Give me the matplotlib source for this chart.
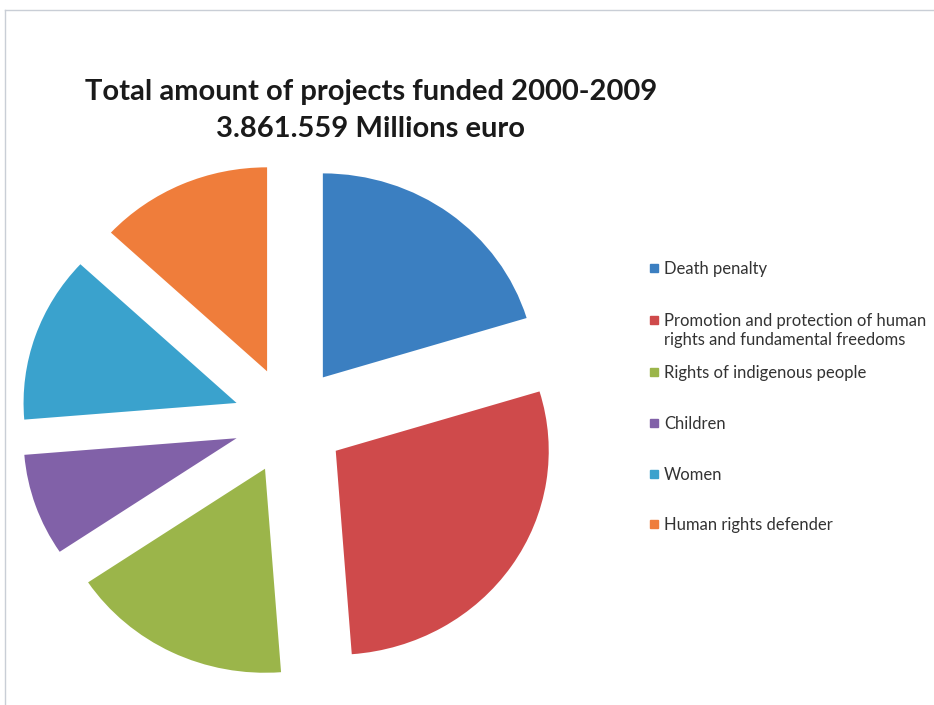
import matplotlib.pyplot as plt
from matplotlib.patches import Rectangle
from matplotlib.lines import Line2D

plt.rcParams['font.family'] = ['Lato', 'DejaVu Sans']

labels = ['Death penalty',
          'Promotion and protection of human\nrights and fundamental freedoms',
          'Rights of indigenous people',
          'Children',
          'Women',
          'Human rights defender']
shares = [20.3, 28.5, 16.8, 8.1, 13.2, 13.1]
colors = ['#3b7fc1', '#cf4a4b', '#9bb54a', '#8161a8', '#3aa2cd', '#ef7d3b']

W, H = 934, 705
fig = plt.figure(figsize=(W / 100, H / 100), dpi=100)

# pie axes placed in pixels: centre (289.5, 420.5 from top)
# the scanned original is slightly stretched sideways: 213 px/unit across, 204 px/unit up
cx, cy, sx, sy, half = 289.5, H - 420.5, 213, 204, 1.35
ax = fig.add_axes([(cx - half * sx) / W, (cy - half * sy) / H,
                   2 * half * sx / W, 2 * half * sy / H])
ax.pie(shares, colors=colors, startangle=90, counterclock=False,
       explode=[0.263] * len(shares), radius=1.0)
ax.set_aspect('auto')
ax.set_xlim(-half, half)
ax.set_ylim(-half, half)
ax.axis('off')

fig.text(371 / W, 1 - 92 / H, 'Total amount of projects funded 2000-2009',
         ha='center', va='center', fontsize=21, fontweight='bold', color='#1a1a1a')
fig.text(371 / W, 1 - 129 / H, '3.861.559 Millions euro',
         ha='center', va='center', fontsize=21, fontweight='bold', color='#1a1a1a')

# legend
ys = [268, 320, 372, 423, 474, 524]
for lab, col, y in zip(labels, colors, ys):
    fig.add_artist(Rectangle((650 / W, 1 - (y + 4) / H), 8 / W, 8 / H,
                             transform=fig.transFigure, color=col))
    fig.text(664 / W, 1 - (y - 7) / H, lab, ha='left', va='top',
             fontsize=12, color='#333333', linespacing=1.25)

# frame edges
fig.add_artist(Line2D([5 / W, 5 / W], [0, 1 - 10 / H], color='#c9ced6', lw=1))
fig.add_artist(Line2D([5 / W, 1], [1 - 10 / H, 1 - 10 / H], color='#c9ced6', lw=1))

fig.savefig('out.png', dpi=100)
